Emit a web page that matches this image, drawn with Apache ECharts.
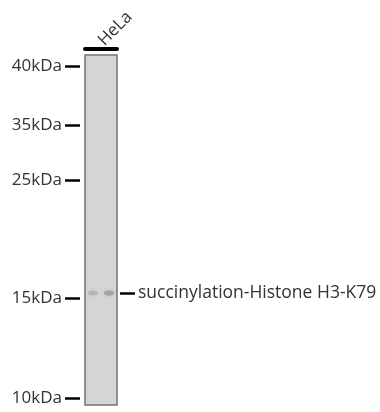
<!DOCTYPE html>
<html>
<head>
<meta charset="utf-8">
<script src="https://cdn.jsdelivr.net/npm/echarts@6/dist/echarts.min.js"></script>
<style>
  html, body { margin: 0; padding: 0; background: #fff; }
  #blot { width: 380px; height: 412px; }
</style>
</head>
<body>
<div id="blot"></div>
<script>
  // lanes and marker ladder (relative migration, 0 = top of lane, 1 = bottom)
  var lanes = ['HeLa'];
  var markerNames = ['40kDa', '35kDa', '25kDa', '15kDa', '10kDa'];
  var markerRf = [0.031, 0.2, 0.357, 0.694, 0.98];
  // detected band
  var bandName = 'succinylation-Histone H3-K79';
  var bandRf = 0.68;
  var bandSpots = [[0.25, 0.68, 0.6], [0.75, 0.68, 1.0]]; // x in lane, Rf, intensity

  var myChart = echarts.init(document.getElementById('blot'));
  var font = '"Open Sans", "Noto Sans", sans-serif';

  var labelMap = {};
  markerRf.forEach(function (v, i) { labelMap[v] = markerNames[i]; });

  var option = {
    animation: false,
    grid: {
      left: 85, top: 55, width: 32, bottom: 7,
      show: true,
      backgroundColor: '#d5d5d5',
      borderColor: '#737373',
      borderWidth: 1.5
    },
    xAxis: [
      { type: 'value', min: 0, max: 1, show: false },
      {
        type: 'category', data: lanes, position: 'top', offset: 6,
        axisLine: { show: true, onZero: false, lineStyle: { color: '#000', width: 4 } },
        axisTick: { show: false },
        axisLabel: {
          rotate: -45, margin: 6, color: '#333',
          fontFamily: font, fontSize: 17
        }
      }
    ],
    yAxis: [
      {
        type: 'value', min: 0, max: 1, inverse: true, position: 'left', offset: 5,
        splitLine: { show: false },
        axisLine: { show: true, onZero: false, lineStyle: { color: 'rgba(0,0,0,0)' } },
        axisTick: {
          show: true, length: 15, customValues: markerRf,
          lineStyle: { color: '#000', width: 2.5 }
        },
        axisLabel: {
          customValues: markerRf, margin: 18, color: '#333',
          fontFamily: font, fontSize: 17,
          formatter: function (v) { return labelMap[v] || ''; }
        }
      },
      {
        type: 'value', min: 0, max: 1, inverse: true, position: 'right', offset: 3,
        splitLine: { show: false },
        axisLine: { show: true, onZero: false, lineStyle: { color: 'rgba(0,0,0,0)' } },
        axisTick: {
          show: true, length: 15, customValues: [bandRf],
          lineStyle: { color: '#000', width: 2.5 }
        },
        axisLabel: {
          customValues: [bandRf], margin: 18, color: '#333',
          fontFamily: font, fontSize: 17.5,
          formatter: function () { return bandName; }
        }
      }
    ],
    series: [
      {
        type: 'scatter',
        xAxisIndex: 0, yAxisIndex: 0,
        data: bandSpots,
        symbol: 'circle',
        symbolSize: [10, 5],
        itemStyle: {
          color: function (p) { return 'rgba(110,110,110,' + (0.5 * p.data[2]) + ')'; },
          shadowBlur: 4,
          shadowColor: 'rgba(110,110,110,0.6)'
        }
      }
    ]
  };
  myChart.setOption(option);
</script>
</body>
</html>
